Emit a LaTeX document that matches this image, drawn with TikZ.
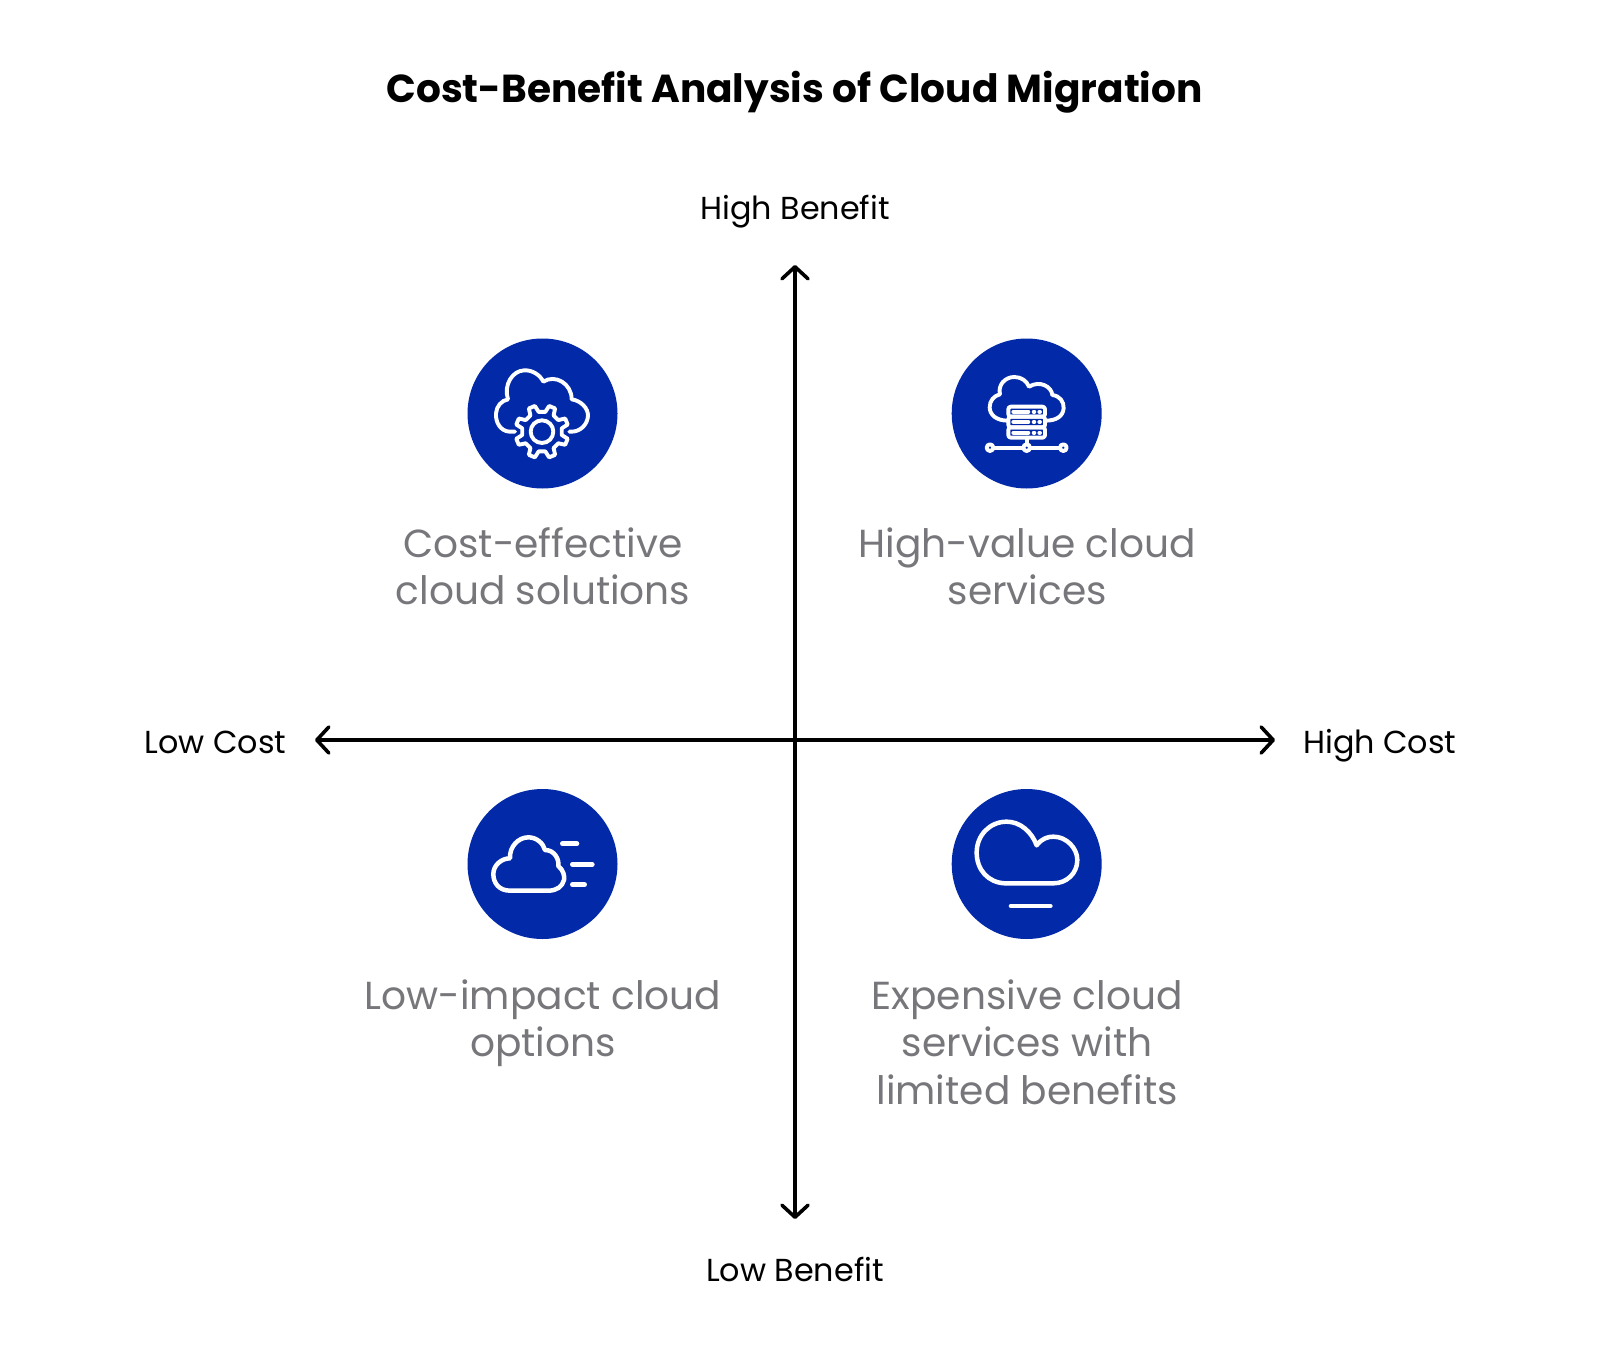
\documentclass[tikz,border=0pt]{standalone}
\usepackage{fontspec}
\setmainfont{Poppins}
\usetikzlibrary{arrows.meta}
\definecolor{iconblue}{HTML}{022AA8}
\definecolor{labgray}{HTML}{77777B}
\tikzset{
  axisline/.style={line width=3.4pt,draw=black,line cap=round,{Straight Barb[length=12pt,width=26pt,line width=3.6pt,round]}-{Straight Barb[length=12pt,width=26pt,line width=3.6pt,round]}},
  disc/.style={circle,fill=iconblue,draw=none,minimum size=150pt,inner sep=0pt},
  quadlabel/.style={font=\fontsize{39.1}{47.4}\selectfont,text=labgray,align=center,anchor=north,inner sep=0pt},
  axislabel/.style={font=\fontsize{31.8}{38}\selectfont,text=black,inner sep=0pt},
  icon/.style={x=0.3333pt,y=-0.3333pt,line cap=round,line join=round,draw=white},
  thin icon/.style={icon,line width=3.9pt},
  thick icon/.style={icon,line width=4.5pt},
}
\begin{document}
\begin{tikzpicture}[x=1pt,y=-1pt]
\useasboundingbox (0,0) rectangle (1600,1359);
\fill[white] (0,0) rectangle (1600,1359);
\node[font=\fontsize{39.05}{46}\bfseries\selectfont,inner sep=0pt] (title) at (794.5,92.7) {Cost-Benefit Analysis of Cloud Migration};

\coordinate (top) at (795,265);
\coordinate (bottom) at (795,1219);
\coordinate (left) at (315,740);
\coordinate (right) at (1275,740);
\draw[axisline] (bottom) -- (top);
\draw[axisline] (left) -- (right);

\node[axislabel] (hb) at (795,212) {High Benefit};
\node[axislabel] (lb) at (795,1269.5) {Low Benefit};
\node[axislabel,anchor=east] (lc) at (286.5,742) {Low Cost};
\node[axislabel,anchor=west] (hc) at (1303,746) {High Cost};

\node[disc] (d1) at (542.5,413.5) {};
\node[disc] (d2) at (1026.7,413.5) {};
\node[disc] (d3) at (542.5,864) {};
\node[disc] (d4) at (1026.7,864) {};

\node[quadlabel] (t1) at (543,527.5) {Cost-effective\\cloud solutions};
\node[quadlabel] (t2) at (1027.2,527.5) {High-value cloud\\services};
\node[quadlabel] (t3) at (543,979.5) {Low-impact cloud\\options};
\node[quadlabel] (t4) at (1027.2,979.5) {Expensive cloud\\services with\\limited benefits};

% icon 1: cloud with gear
\begin{scope}[shift={(460,330)},thin icon]
\draw (165,305) -- (148,305) .. controls (120,303) and (106,275) .. (108,250)
 .. controls (110,228) and (124,212) .. (144,208)
 .. controls (130,165) and (157,122) .. (193,121)
 .. controls (218,120) and (240,135) .. (250,155)
 .. controls (285,132) and (335,160) .. (335,208)
 .. controls (363,212) and (385,235) .. (384,258)
 .. controls (382,285) and (360,305) .. (335,305) -- (328,305);
\begin{scope}[shift={(246,305)}]
\draw (0,0) circle[radius=34];
\draw (9.5:60) \foreach \a in {22.5,67.5,...,337.5}{ -- (\a-13:60) -- (\a-7:80) -- (\a+7:80) -- (\a+13:60) } -- cycle;
\end{scope}
\end{scope}

% icon 2: cloud with server
\begin{scope}[shift={(945,330)},thin icon]
\draw (188,272) .. controls (155,272) and (134,255) .. (134,232)
 .. controls (134,212) and (147,197) .. (165,193)
 .. controls (158,165) and (180,141) .. (208,141)
 .. controls (228,141) and (245,152) .. (252,170)
 .. controls (285,150) and (320,170) .. (322,195)
 .. controls (345,198) and (357,215) .. (356,235)
 .. controls (354,258) and (335,272) .. (302,272);
\draw[rounded corners=2.5pt] (190,230) rectangle (300,260);
\draw[rounded corners=2.5pt] (190,260) rectangle (300,292);
\draw[rounded corners=2.5pt] (190,292) rectangle (300,323);
\foreach \y in {245,276,308}{
  \draw (205,\y) -- (250,\y);
  \draw (266,\y) -- (268,\y);
  \draw (283,\y) -- (285,\y);
}
\draw (245,323) -- (245,343);
\draw (145,353) -- (235,353);
\draw (255,353) -- (345,353);
\draw (135,353) circle[radius=10];
\draw (245,353) circle[radius=10];
\draw (355,353) circle[radius=10];
\end{scope}

% icon 3: fast cloud
\begin{scope}[shift={(460,780)},thick icon]
\draw (150,332) .. controls (118,332) and (100,310) .. (100,282)
 .. controls (100,255) and (125,235) .. (150,235)
 .. controls (148,200) and (175,172) .. (205,172)
 .. controls (230,172) and (250,190) .. (255,210)
 .. controls (285,210) and (298,240) .. (295,258)
 .. controls (310,270) and (315,290) .. (312,300)
 .. controls (307,320) and (290,332) .. (265,332) -- cycle;
\draw[line width=4.6pt] (307,191) -- (351,191);
\draw[line width=4.6pt] (337,253) -- (397,253);
\draw[line width=4.6pt] (337,314) -- (374,314);
\end{scope}

% icon 4: cloud with bar
\begin{scope}[shift={(945,780)},thick icon]
\draw (180,310) .. controls (130,308) and (95,270) .. (95,218)
 .. controls (95,165) and (135,125) .. (185,125)
 .. controls (225,125) and (260,155) .. (275,196)
 .. controls (290,175) and (310,170) .. (325,170)
 .. controls (365,170) and (397,205) .. (397,240)
 .. controls (397,280) and (365,310) .. (325,310) -- cycle;
\draw[line width=4.6pt] (198,378) -- (316,378);
\end{scope}
\end{tikzpicture}
\end{document}
